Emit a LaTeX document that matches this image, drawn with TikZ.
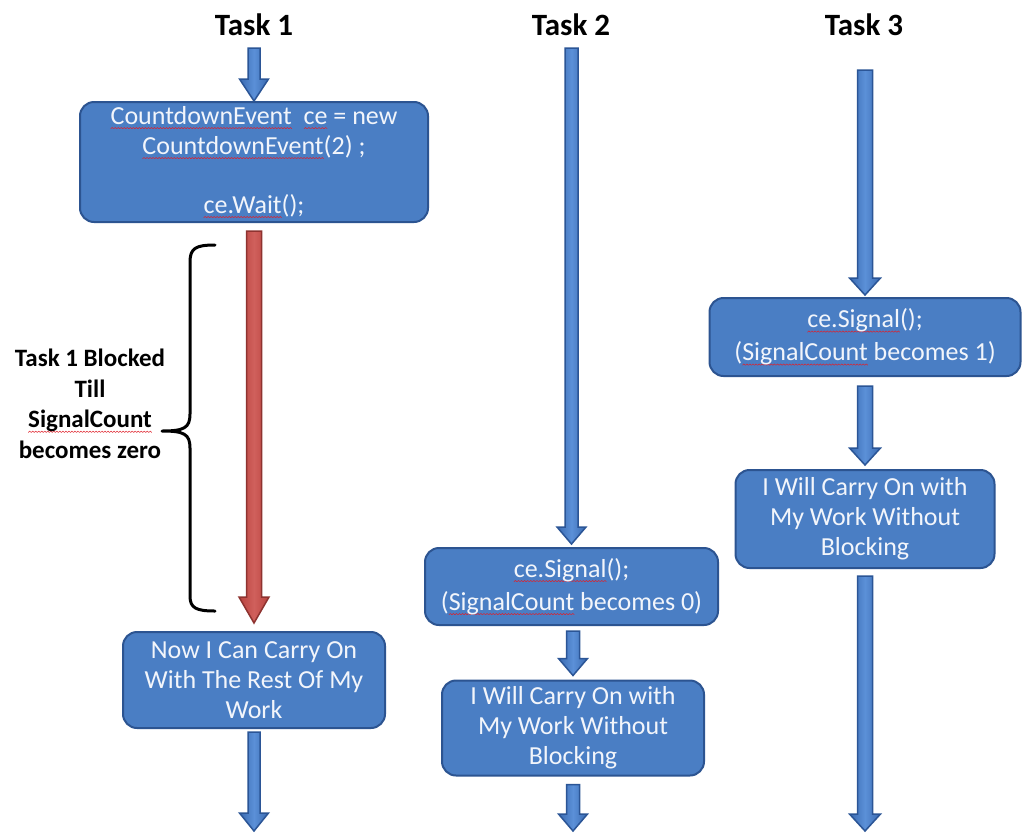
\documentclass[tikz,border=0pt]{standalone}
\usepackage{fontspec}
\setmainfont{Carlito}
\usetikzlibrary{calc}

\definecolor{boxfill}{HTML}{4A7EC4}
\definecolor{boxline}{HTML}{2C5491}
\definecolor{boxtext}{HTML}{F2F5FB}
\definecolor{arrowdark}{HTML}{3A6AB0}
\definecolor{arrowlight}{HTML}{5B90D8}
\definecolor{arrowline}{HTML}{2B5596}
\definecolor{reddark}{HTML}{B8433F}
\definecolor{redlight}{HTML}{D0605C}
\definecolor{redline}{HTML}{8E3330}
\definecolor{spellred}{HTML}{E0202A}

% wavy red spell-check underline built from a repeated zigzag tile
\newsavebox\wavetile
\newsavebox\spellword
\newcommand\spell[1]{%
  \sbox\spellword{#1}%
  \rlap{\lower4.5pt\hbox to\wd\spellword{\xleaders\copy\wavetile\hfill}}%
  \usebox\spellword}

% block arrow pointing down: style, from, to, shaft half width, head half width, head height
\newcommand\flow[6]{%
  \path[#1] let \p1=(#2), \p2=(#3) in
    (\x2-#4,\y1) -- (\x2+#4,\y1) -- (\x2+#4,\y2+#6) -- (\x2+#5,\y2+#6)
    -- (\x2,\y2) -- (\x2-#5,\y2+#6) -- (\x2-#4,\y2+#6) -- cycle;}

\tikzset{
  stepbox/.style={draw=boxline, line width=2pt, fill=boxfill, rounded corners=14pt,
    text=boxtext, align=center, inner sep=0pt,
    font=\fontsize{26}{30}\selectfont},
  twoline/.style={font=\fontsize{26}{33}\selectfont},
  bluearrow/.style={draw=arrowline, line width=1.5pt, left color=arrowdark,
    right color=arrowdark, middle color=arrowlight},
  redarrow/.style={draw=redline, line width=1.5pt, left color=reddark,
    right color=reddark, middle color=redlight},
  heading/.style={font=\fontsize{31}{36}\selectfont\bfseries, text=black},
  bracket/.style={draw=black, line width=3pt, line cap=round, line join=round},
}

\begin{document}
\sbox\wavetile{\begin{pgfpicture}
  \pgfpathrectangle{\pgfpointorigin}{\pgfpoint{3pt}{1.3pt}}
  \pgfusepath{use as bounding box}
  \pgfsetstrokecolor{spellred}
  \pgfsetlinewidth{0.5pt}
  \pgfpathmoveto{\pgfpointorigin}
  \pgfpathlineto{\pgfpoint{1.5pt}{1.3pt}}
  \pgfpathlineto{\pgfpoint{3pt}{0pt}}
  \pgfusepath{stroke}
\end{pgfpicture}}%
\begin{tikzpicture}[x=1pt, y=-1pt]
\useasboundingbox[fill=white] (0,0) rectangle (1024,833);

% column headings
\node[heading] (h1) at (254,25) {Task 1};
\node[heading] (h2) at (571,25) {Task 2};
\node[heading] (h3) at (864,25) {Task 3};

% Task 1 column
\node[stepbox, minimum width=348pt, minimum height=120pt] (create) at (254,162)
  {\spell{CountdownEvent}\ \ \spell{ce} = new\\ \spell{CountdownEvent}(2) ;\\[29pt] \spell{ce.Wait}();};
\node[stepbox, minimum width=262pt, minimum height=96pt] (resume) at (254,680)
  {Now I Can Carry On\\ With The Rest Of My\\ Work};

% Task 2 column
\node[stepbox, twoline, minimum width=293pt, minimum height=77pt] (sig0) at (571.5,586.5)
  {\spell{ce.Signal}();\\ (\spell{SignalCount} becomes 0)};
\node[stepbox, minimum width=262pt, minimum height=95pt] (work2) at (573,728)
  {I Will Carry On with\\ My Work Without\\ Blocking};

% Task 3 column
\node[stepbox, twoline, minimum width=311pt, minimum height=78pt] (sig1) at (865,337)
  {\spell{ce.Signal}();\\ (\spell{SignalCount} becomes 1)};
\node[stepbox, minimum width=259pt, minimum height=98pt] (work3) at (865,519)
  {I Will Carry On with\\ My Work Without\\ Blocking};

% free ends of the flow arrows
\coordinate (t1in) at (254,48);
\coordinate (t1out) at (254,831);
\coordinate (t2in) at (573,48);
\coordinate (t2out) at (573,831);
\coordinate (t3in) at (865,70);
\coordinate (t3out) at (865,831);

% Task 1 arrows
\flow{bluearrow}{t1in}{create.north}{6pt}{14.5pt}{22pt}
\flow{redarrow}{$(create.south)+(0,8)$}{$(resume.north)+(0,-8)$}{7.5pt}{15pt}{26pt}
\flow{bluearrow}{$(resume.south)+(0,3)$}{t1out}{6pt}{14.5pt}{18pt}

% Task 2 arrows
\flow{bluearrow}{t2in}{$(sig0.north)+(0,-3)$}{6.5pt}{14.5pt}{17pt}
\flow{bluearrow}{$(sig0.south)+(0,5)$}{$(work2.north)+(0,-4)$}{6.5pt}{14.5pt}{17pt}
\flow{bluearrow}{$(work2.south)+(0,8)$}{t2out}{6.5pt}{14.5pt}{17pt}

% Task 3 arrows
\flow{bluearrow}{t3in}{$(sig1.north)+(0,-2)$}{7.5pt}{15.5pt}{17pt}
\flow{bluearrow}{$(sig1.south)+(0,9)$}{$(work3.north)+(0,-4)$}{7.5pt}{15.5pt}{17pt}
\flow{bluearrow}{$(work3.south)+(0,7)$}{t3out}{7.5pt}{15.5pt}{17pt}

% curly bracket spanning the blocked interval
\coordinate (brtop) at (215,245);
\coordinate (brbot) at (215,611);
\coordinate (brtip) at (162,431);
\draw[bracket] (brtop) .. controls (196,245) and (190,248) .. (190,262)
  -- (190,414) .. controls (190,428) and (184,431) .. (brtip)
  .. controls (184,431) and (190,434) .. (190,448)
  -- (190,596) .. controls (190,608) and (196,611) .. (brbot);

\node[font=\fontsize{25}{30.5}\selectfont\bfseries, align=center]
  (blocked) at (90,404)
  {Task 1 Blocked\\ Till\\ \spell{SignalCount}\\ becomes zero};
\end{tikzpicture}
\end{document}
